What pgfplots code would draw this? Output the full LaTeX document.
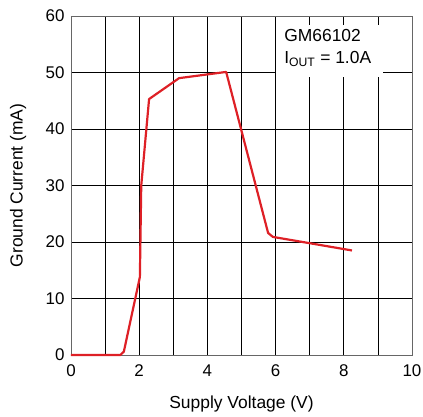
\documentclass[border=0pt]{standalone}
\usepackage{fontspec}
\setmainfont{Liberation Sans}
\usepackage{pgfplots}
\pgfplotsset{compat=1.18}
\definecolor{curvered}{RGB}{222,32,38}
\begin{document}
\begin{tikzpicture}
  \begin{axis}[
      name=main,
      scale only axis,
      width=341bp,
      height=339bp,
      xmin=0, xmax=10,
      ymin=0, ymax=60,
      xtick={0,2,4,6,8,10},
      minor xtick={1,3,5,7,9},
      ytick={0,10,20,30,40,50,60},
      grid=both,
      major grid style={black,line width=0.8pt},
      minor grid style={black,line width=0.8pt},
      axis line style={black!60,line width=0.8pt},
      major tick length=0pt,
      minor tick length=0pt,
      tick label style={font=\fontsize{17}{19}\selectfont},
      x tick label style={yshift=-6bp},
      y tick label style={xshift=-3bp},
      label style={font=\fontsize{17.5}{20}\selectfont},
      /pgf/number format/assume math mode=true,
      xlabel={Supply Voltage (V)},
      ylabel={Ground Current (mA)},
      xlabel style={at={(axis description cs:0.5,-0.1445)}, anchor=center},
      ylabel style={at={(axis description cs:-0.155,0.5)}, anchor=center},
      clip=false,
    ]
    \fill[white] (axis cs:6.0,58.4) rectangle (axis cs:9.15,49.2);
    \node[anchor=north west, align=left, inner sep=0pt,
      font=\fontsize{17.5}{22}\selectfont]
      at (axis cs:6.25,57.6) {GM66102\\I\textsubscript{OUT} = 1.0A};
    \addplot[curvered, line width=2.2pt, line join=round] coordinates {
      (0,0) (1.45,0) (1.55,0.6) (2.02,13.8) (2.06,30) (2.29,45.3)
      (3.17,49) (4.55,50.1) (5.78,21.6) (5.92,20.9) (6.6,20.2)
      (8.24,18.5)
    };
  \end{axis}
  \pgfresetboundingbox
  \path[use as bounding box] (main.south west) ++(-71bp,-62bp)
    rectangle (main.north east) ++(11bp,16bp);
\end{tikzpicture}
\end{document}
